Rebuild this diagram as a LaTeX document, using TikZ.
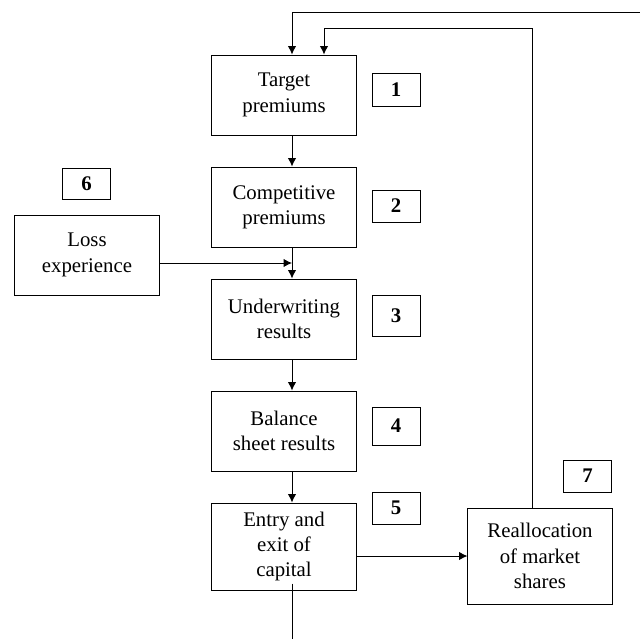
\documentclass[tikz,border=0pt]{standalone}
\usepackage{fontspec}
\setmainfont{Liberation Serif}
\usepackage{tikz}
\usetikzlibrary{arrows.meta}

\tikzset{
  stage/.style={draw, line width=0.7pt, align=center, minimum width=3.6cm, minimum height=2cm, inner sep=2pt,
    font=\fontsize{14.8}{18}\selectfont},
  numbox/.style={draw, line width=0.7pt, minimum width=1.2cm, font=\fontsize{14.8}{18}\selectfont\bfseries},
  flow/.style={line width=0.7pt, -{Latex[length=6pt,width=6pt]}}
}

\begin{document}
\begin{tikzpicture}[x=0.025cm, y=-0.025cm]
  \useasboundingbox (0,0) rectangle (640,639);

  % Draw the stages
  \node[stage] (target) at (284,95) {Target\\premiums};
  \node[stage] (compet) at (284,207) {Competitive\\premiums};
  \node[stage] (under) at (284,319) {Underwriting\\results};
  \node[stage] (balance) at (284,431) {Balance\\sheet results};
  \node[stage, minimum height=2.175cm] (entry) at (284,546.5) {Entry and\\exit of\\capital};
  \node[stage] (loss) at (87,255) {Loss\\experience};
  \node[stage, minimum height=2.4cm] (realloc) at (540,556) {Reallocation\\of market\\shares};

  % Draw the numbers
  \node[numbox, minimum height=0.825cm] (num1) at (396,89.5) {1};
  \node[numbox, minimum height=0.8cm] (num2) at (396,206) {2};
  \node[numbox, minimum height=1.025cm] (num3) at (396,315.5) {3};
  \node[numbox, minimum height=0.95cm] (num4) at (396,426) {4};
  \node[numbox, minimum height=0.8cm] (num5) at (396,508) {5};
  \node[numbox, minimum height=0.775cm] (num6) at (86.5,183.5) {6};
  \node[numbox, minimum height=0.8cm] (num7) at (587.5,476) {7};

  % Points for the lines
  \coordinate (spine) at (292,0);
  \coordinate (join) at (292,263);
  \coordinate (topright) at (640,12);
  \coordinate (back) at (532,28);
  \coordinate (back2) at (324,28);
  \coordinate (exit) at (292,639);

  % Draw the main flow
  \draw[flow] (target.south -| spine) -- (compet.north -| spine);
  \draw[flow] (compet.south -| spine) -- (under.north -| spine);
  \draw[flow] (loss.east |- join) -- (join);
  \draw[flow] (under.south -| spine) -- (balance.north -| spine);
  \draw[flow] (balance.south -| spine) -- (entry.north -| spine);
  \draw[flow] (entry.east |- realloc) -- (realloc.west);
  \draw[line width=0.7pt] ([yshift=0.175cm]entry.south -| spine) -- (exit);

  % Draw the feedback lines
  \draw[flow] (topright) -| (target.north -| spine);
  \draw[flow] (realloc.north -| back) |- (back2) -- (target.north -| back2);
\end{tikzpicture}
\end{document}
